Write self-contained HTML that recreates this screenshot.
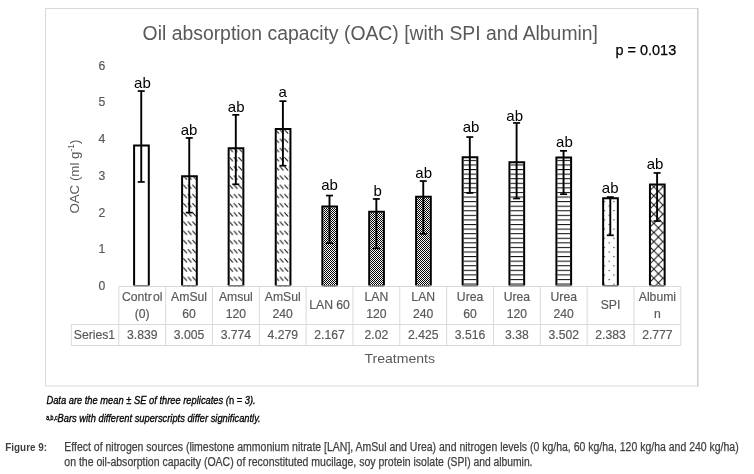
<!DOCTYPE html><html><head><meta charset="utf-8"><style>
html,body{margin:0;padding:0;background:#fff;}
svg{display:block;will-change:transform;}
text{font-family:"Liberation Sans", sans-serif;}
</style></head><body>
<svg width="754" height="474" viewBox="0 0 754 474">
<defs>
<pattern id="pDiag" patternUnits="userSpaceOnUse" x="-1.0" y="221.4" width="4.6" height="9.2"><line x1="0.2" y1="0.2" x2="3.9" y2="4.2" stroke="#111" stroke-width="1.1"/></pattern>
<pattern id="pChk" patternUnits="userSpaceOnUse" width="2" height="2"><rect x="0" y="0" width="2" height="2" fill="#fff"/><rect x="0" y="0" width="1" height="1" fill="#000"/><rect x="1" y="1" width="1" height="1" fill="#000"/></pattern>
<pattern id="pHor" patternUnits="userSpaceOnUse" x="0" y="224.0" width="10" height="4.58"><rect x="0" y="0" width="10" height="1.05" fill="#111"/></pattern>
<pattern id="pDot" patternUnits="userSpaceOnUse" x="603.8" y="246.9" width="9.6" height="9.2"><rect x="0" y="0" width="1.1" height="1.1" fill="#111"/><rect x="4.8" y="-4.6" width="1.1" height="1.1" fill="#111"/><rect x="4.8" y="4.6" width="1.1" height="1.1" fill="#111"/></pattern>
<pattern id="pX" patternUnits="userSpaceOnUse" x="649.2" y="246.2" width="9.2" height="9.15"><path d="M-1,-0.995 L10.2,10.145 M10.2,-0.995 L-1,10.145" stroke="#111" stroke-width="1.05" fill="none"/></pattern>
</defs>
<rect width="754" height="474" fill="#fff"/>
<rect x="45.5" y="8.5" width="652" height="377.5" fill="#fff" stroke="#d9d9d9" stroke-width="1"/>
<line x1="46" y1="385.8" x2="697" y2="385.8" stroke="#ececec" stroke-width="1.4"/>
<line x1="697.8" y1="8" x2="697.8" y2="386.5" stroke="#d0d0d0" stroke-width="1.6"/>
<text x="142.6" y="40" font-size="19.5" fill="#595959" textLength="455.4" lengthAdjust="spacingAndGlyphs">Oil absorption capacity (OAC) [with SPI and Albumin]</text>
<text x="615.4" y="55" font-size="15.4" fill="#000" stroke="#000" stroke-width="0.25" textLength="60.8" lengthAdjust="spacingAndGlyphs">p = 0.013</text>
<text x="105.4" y="290.20" font-size="12.2" fill="#595959" stroke="#595959" stroke-width="0.18" text-anchor="end">0</text>
<text x="105.4" y="253.45" font-size="12.2" fill="#595959" stroke="#595959" stroke-width="0.18" text-anchor="end">1</text>
<text x="105.4" y="216.70" font-size="12.2" fill="#595959" stroke="#595959" stroke-width="0.18" text-anchor="end">2</text>
<text x="105.4" y="179.95" font-size="12.2" fill="#595959" stroke="#595959" stroke-width="0.18" text-anchor="end">3</text>
<text x="105.4" y="143.20" font-size="12.2" fill="#595959" stroke="#595959" stroke-width="0.18" text-anchor="end">4</text>
<text x="105.4" y="106.45" font-size="12.2" fill="#595959" stroke="#595959" stroke-width="0.18" text-anchor="end">5</text>
<text x="105.4" y="69.70" font-size="12.2" fill="#595959" stroke="#595959" stroke-width="0.18" text-anchor="end">6</text>
<text transform="translate(78.8,213.6) rotate(-90)" font-size="13.6" fill="#595959" textLength="74" lengthAdjust="spacingAndGlyphs">OAC (ml g<tspan font-size="8.6" dy="-5">-1</tspan><tspan dy="5">)</tspan></text>
<g stroke="#d9d9d9" stroke-width="1" fill="none">
<line x1="118.80" y1="286.5" x2="680.82" y2="286.5"/>
<line x1="71.3" y1="324.5" x2="680.82" y2="324.5"/>
<line x1="71.3" y1="345.5" x2="680.82" y2="345.5"/>
<line x1="71.3" y1="324.5" x2="71.3" y2="345.5"/>
<line x1="118.80" y1="286.5" x2="118.80" y2="345.5"/>
<line x1="165.63" y1="286.5" x2="165.63" y2="345.5"/>
<line x1="212.47" y1="286.5" x2="212.47" y2="345.5"/>
<line x1="259.31" y1="286.5" x2="259.31" y2="345.5"/>
<line x1="306.14" y1="286.5" x2="306.14" y2="345.5"/>
<line x1="352.98" y1="286.5" x2="352.98" y2="345.5"/>
<line x1="399.81" y1="286.5" x2="399.81" y2="345.5"/>
<line x1="446.65" y1="286.5" x2="446.65" y2="345.5"/>
<line x1="493.48" y1="286.5" x2="493.48" y2="345.5"/>
<line x1="540.31" y1="286.5" x2="540.31" y2="345.5"/>
<line x1="587.15" y1="286.5" x2="587.15" y2="345.5"/>
<line x1="633.99" y1="286.5" x2="633.99" y2="345.5"/>
<line x1="680.82" y1="286.5" x2="680.82" y2="345.5"/>
</g>
<rect x="135.10" y="146.60" width="12.70" height="139.90" fill="#fff"/>
<path d="M134.10,285.60 V145.60 H148.80 V285.60" fill="none" stroke="#000" stroke-width="2.0"/>
<rect x="134.10" y="285.00" width="14.70" height="1.5" fill="#7f7f7f"/>
<rect x="183.10" y="177.30" width="12.70" height="109.20" fill="url(#pDiag)"/>
<path d="M182.10,285.60 V176.30 H196.80 V285.60" fill="none" stroke="#000" stroke-width="2.0"/>
<rect x="182.10" y="285.00" width="14.70" height="1.5" fill="#7f7f7f"/>
<rect x="229.65" y="149.20" width="12.70" height="137.30" fill="url(#pDiag)"/>
<path d="M228.65,285.60 V148.20 H243.35 V285.60" fill="none" stroke="#000" stroke-width="2.0"/>
<rect x="228.65" y="285.00" width="14.70" height="1.5" fill="#7f7f7f"/>
<rect x="276.75" y="130.00" width="12.70" height="156.50" fill="url(#pDiag)"/>
<path d="M275.75,285.60 V129.00 H290.45 V285.60" fill="none" stroke="#000" stroke-width="2.0"/>
<rect x="275.75" y="285.00" width="14.70" height="1.5" fill="#7f7f7f"/>
<rect x="323.35" y="207.60" width="12.70" height="78.90" fill="url(#pChk)"/>
<path d="M322.35,285.60 V206.60 H337.05 V285.60" fill="none" stroke="#000" stroke-width="2.0"/>
<rect x="322.35" y="285.00" width="14.70" height="1.5" fill="#7f7f7f"/>
<rect x="370.20" y="212.80" width="12.70" height="73.70" fill="url(#pChk)"/>
<path d="M369.20,285.60 V211.80 H383.90 V285.60" fill="none" stroke="#000" stroke-width="2.0"/>
<rect x="369.20" y="285.00" width="14.70" height="1.5" fill="#7f7f7f"/>
<rect x="417.10" y="197.70" width="12.70" height="88.80" fill="url(#pChk)"/>
<path d="M416.10,285.60 V196.70 H430.80 V285.60" fill="none" stroke="#000" stroke-width="2.0"/>
<rect x="416.10" y="285.00" width="14.70" height="1.5" fill="#7f7f7f"/>
<rect x="463.65" y="158.30" width="12.70" height="128.20" fill="url(#pHor)"/>
<path d="M462.65,285.60 V157.30 H477.35 V285.60" fill="none" stroke="#000" stroke-width="2.0"/>
<rect x="462.65" y="285.00" width="14.70" height="1.5" fill="#7f7f7f"/>
<rect x="510.45" y="163.30" width="12.70" height="123.20" fill="url(#pHor)"/>
<path d="M509.45,285.60 V162.30 H524.15 V285.60" fill="none" stroke="#000" stroke-width="2.0"/>
<rect x="509.45" y="285.00" width="14.70" height="1.5" fill="#7f7f7f"/>
<rect x="557.40" y="158.50" width="12.70" height="128.00" fill="url(#pHor)"/>
<path d="M556.40,285.60 V157.50 H571.10 V285.60" fill="none" stroke="#000" stroke-width="2.0"/>
<rect x="556.40" y="285.00" width="14.70" height="1.5" fill="#7f7f7f"/>
<rect x="604.15" y="199.30" width="12.70" height="87.20" fill="url(#pDot)"/>
<path d="M603.15,285.60 V198.30 H617.85 V285.60" fill="none" stroke="#000" stroke-width="2.0"/>
<rect x="603.15" y="285.00" width="14.70" height="1.5" fill="#7f7f7f"/>
<rect x="650.95" y="185.40" width="12.70" height="101.10" fill="url(#pX)"/>
<path d="M649.95,285.60 V184.40 H664.65 V285.60" fill="none" stroke="#000" stroke-width="2.0"/>
<rect x="649.95" y="285.00" width="14.70" height="1.5" fill="#7f7f7f"/>
<line x1="141.25" y1="91.05" x2="141.25" y2="181.95" stroke="#000" stroke-width="1.9"/>
<rect x="137.75" y="90.20" width="7" height="1.7" fill="#000"/>
<rect x="137.75" y="181.10" width="7" height="1.7" fill="#000"/>
<line x1="189.25" y1="137.95" x2="189.25" y2="212.60" stroke="#000" stroke-width="1.9"/>
<rect x="185.75" y="137.10" width="7" height="1.7" fill="#000"/>
<rect x="185.75" y="211.75" width="7" height="1.7" fill="#000"/>
<line x1="235.80" y1="114.85" x2="235.80" y2="184.30" stroke="#000" stroke-width="1.9"/>
<rect x="232.30" y="114.00" width="7" height="1.7" fill="#000"/>
<rect x="232.30" y="183.45" width="7" height="1.7" fill="#000"/>
<line x1="282.90" y1="101.15" x2="282.90" y2="165.70" stroke="#000" stroke-width="1.9"/>
<rect x="279.40" y="100.30" width="7" height="1.7" fill="#000"/>
<rect x="279.40" y="164.85" width="7" height="1.7" fill="#000"/>
<line x1="329.50" y1="195.55" x2="329.50" y2="243.10" stroke="#000" stroke-width="1.9"/>
<rect x="326.00" y="194.70" width="7" height="1.7" fill="#000"/>
<rect x="326.00" y="242.25" width="7" height="1.7" fill="#000"/>
<line x1="376.35" y1="198.95" x2="376.35" y2="248.40" stroke="#000" stroke-width="1.9"/>
<rect x="372.85" y="198.10" width="7" height="1.7" fill="#000"/>
<rect x="372.85" y="247.55" width="7" height="1.7" fill="#000"/>
<line x1="423.25" y1="181.05" x2="423.25" y2="233.80" stroke="#000" stroke-width="1.9"/>
<rect x="419.75" y="180.20" width="7" height="1.7" fill="#000"/>
<rect x="419.75" y="232.95" width="7" height="1.7" fill="#000"/>
<line x1="469.80" y1="137.05" x2="469.80" y2="193.00" stroke="#000" stroke-width="1.9"/>
<rect x="466.30" y="136.20" width="7" height="1.7" fill="#000"/>
<rect x="466.30" y="192.15" width="7" height="1.7" fill="#000"/>
<line x1="516.60" y1="122.95" x2="516.60" y2="198.50" stroke="#000" stroke-width="1.9"/>
<rect x="513.10" y="122.10" width="7" height="1.7" fill="#000"/>
<rect x="513.10" y="197.65" width="7" height="1.7" fill="#000"/>
<line x1="563.55" y1="150.85" x2="563.55" y2="194.20" stroke="#000" stroke-width="1.9"/>
<rect x="560.05" y="150.00" width="7" height="1.7" fill="#000"/>
<rect x="560.05" y="193.35" width="7" height="1.7" fill="#000"/>
<line x1="610.30" y1="197.05" x2="610.30" y2="235.30" stroke="#000" stroke-width="1.9"/>
<rect x="606.80" y="196.20" width="7" height="1.7" fill="#000"/>
<rect x="606.80" y="234.45" width="7" height="1.7" fill="#000"/>
<line x1="657.10" y1="172.95" x2="657.10" y2="221.05" stroke="#000" stroke-width="1.9"/>
<rect x="653.60" y="172.10" width="7" height="1.7" fill="#000"/>
<rect x="653.60" y="220.20" width="7" height="1.7" fill="#000"/>
<text x="142.45" y="87.70" font-size="15" fill="#000" text-anchor="middle">ab</text>
<text x="189.10" y="134.70" font-size="15" fill="#000" text-anchor="middle">ab</text>
<text x="236.15" y="111.70" font-size="15" fill="#000" text-anchor="middle">ab</text>
<text x="282.70" y="96.70" font-size="15" fill="#000" text-anchor="middle">a</text>
<text x="329.55" y="190.40" font-size="15" fill="#000" text-anchor="middle">ab</text>
<text x="377.75" y="195.60" font-size="15" fill="#000" text-anchor="middle">b</text>
<text x="423.70" y="177.90" font-size="15" fill="#000" text-anchor="middle">ab</text>
<text x="471.10" y="132.20" font-size="15" fill="#000" text-anchor="middle">ab</text>
<text x="514.70" y="120.60" font-size="15" fill="#000" text-anchor="middle">ab</text>
<text x="564.40" y="146.60" font-size="15" fill="#000" text-anchor="middle">ab</text>
<text x="610.20" y="192.60" font-size="15" fill="#000" text-anchor="middle">ab</text>
<text x="655.05" y="168.50" font-size="15" fill="#000" text-anchor="middle">ab</text>
<text x="142.22" y="300.8" font-size="12.2" fill="#595959" stroke="#595959" stroke-width="0.18" text-anchor="middle">Contr<tspan dx="1.2">ol</tspan></text>
<text x="142.22" y="317.5" font-size="12.2" fill="#595959" stroke="#595959" stroke-width="0.18" text-anchor="middle">(0)</text>
<text x="142.22" y="338.5" font-size="12.2" fill="#595959" stroke="#595959" stroke-width="0.18" text-anchor="middle">3.839</text>
<text x="189.05" y="300.8" font-size="12.2" fill="#595959" stroke="#595959" stroke-width="0.18" text-anchor="middle">AmSul</text>
<text x="189.05" y="317.5" font-size="12.2" fill="#595959" stroke="#595959" stroke-width="0.18" text-anchor="middle">60</text>
<text x="189.05" y="338.5" font-size="12.2" fill="#595959" stroke="#595959" stroke-width="0.18" text-anchor="middle">3.005</text>
<text x="235.89" y="300.8" font-size="12.2" fill="#595959" stroke="#595959" stroke-width="0.18" text-anchor="middle">Amsul</text>
<text x="235.89" y="317.5" font-size="12.2" fill="#595959" stroke="#595959" stroke-width="0.18" text-anchor="middle">120</text>
<text x="235.89" y="338.5" font-size="12.2" fill="#595959" stroke="#595959" stroke-width="0.18" text-anchor="middle">3.774</text>
<text x="282.72" y="300.8" font-size="12.2" fill="#595959" stroke="#595959" stroke-width="0.18" text-anchor="middle">AmSul</text>
<text x="282.72" y="317.5" font-size="12.2" fill="#595959" stroke="#595959" stroke-width="0.18" text-anchor="middle">240</text>
<text x="282.72" y="338.5" font-size="12.2" fill="#595959" stroke="#595959" stroke-width="0.18" text-anchor="middle">4.279</text>
<text x="329.56" y="308.8" font-size="12.2" fill="#595959" stroke="#595959" stroke-width="0.18" text-anchor="middle">LAN 60</text>
<text x="329.56" y="338.5" font-size="12.2" fill="#595959" stroke="#595959" stroke-width="0.18" text-anchor="middle">2.167</text>
<text x="376.39" y="300.8" font-size="12.2" fill="#595959" stroke="#595959" stroke-width="0.18" text-anchor="middle">LAN</text>
<text x="376.39" y="317.5" font-size="12.2" fill="#595959" stroke="#595959" stroke-width="0.18" text-anchor="middle">120</text>
<text x="376.39" y="338.5" font-size="12.2" fill="#595959" stroke="#595959" stroke-width="0.18" text-anchor="middle">2.02</text>
<text x="423.23" y="300.8" font-size="12.2" fill="#595959" stroke="#595959" stroke-width="0.18" text-anchor="middle">LAN</text>
<text x="423.23" y="317.5" font-size="12.2" fill="#595959" stroke="#595959" stroke-width="0.18" text-anchor="middle">240</text>
<text x="423.23" y="338.5" font-size="12.2" fill="#595959" stroke="#595959" stroke-width="0.18" text-anchor="middle">2.425</text>
<text x="470.06" y="300.8" font-size="12.2" fill="#595959" stroke="#595959" stroke-width="0.18" text-anchor="middle">Urea</text>
<text x="470.06" y="317.5" font-size="12.2" fill="#595959" stroke="#595959" stroke-width="0.18" text-anchor="middle">60</text>
<text x="470.06" y="338.5" font-size="12.2" fill="#595959" stroke="#595959" stroke-width="0.18" text-anchor="middle">3.516</text>
<text x="516.90" y="300.8" font-size="12.2" fill="#595959" stroke="#595959" stroke-width="0.18" text-anchor="middle">Urea</text>
<text x="516.90" y="317.5" font-size="12.2" fill="#595959" stroke="#595959" stroke-width="0.18" text-anchor="middle">120</text>
<text x="516.90" y="338.5" font-size="12.2" fill="#595959" stroke="#595959" stroke-width="0.18" text-anchor="middle">3.38</text>
<text x="563.73" y="300.8" font-size="12.2" fill="#595959" stroke="#595959" stroke-width="0.18" text-anchor="middle">Urea</text>
<text x="563.73" y="317.5" font-size="12.2" fill="#595959" stroke="#595959" stroke-width="0.18" text-anchor="middle">240</text>
<text x="563.73" y="338.5" font-size="12.2" fill="#595959" stroke="#595959" stroke-width="0.18" text-anchor="middle">3.502</text>
<text x="610.57" y="308.8" font-size="12.2" fill="#595959" stroke="#595959" stroke-width="0.18" text-anchor="middle">SPI</text>
<text x="610.57" y="338.5" font-size="12.2" fill="#595959" stroke="#595959" stroke-width="0.18" text-anchor="middle">2.383</text>
<text x="657.40" y="300.8" font-size="12.2" fill="#595959" stroke="#595959" stroke-width="0.18" text-anchor="middle">Albumi</text>
<text x="657.40" y="317.5" font-size="12.2" fill="#595959" stroke="#595959" stroke-width="0.18" text-anchor="middle">n</text>
<text x="657.40" y="338.5" font-size="12.2" fill="#595959" stroke="#595959" stroke-width="0.18" text-anchor="middle">2.777</text>
<text x="94.5" y="338.5" font-size="12.2" fill="#595959" stroke="#595959" stroke-width="0.18" text-anchor="middle">Series1</text>
<text x="364.5" y="362.7" font-size="13.4" fill="#595959" textLength="70.5" lengthAdjust="spacingAndGlyphs">Treatments</text>
<text x="46.4" y="404" font-size="10.2" font-style="italic" fill="#000" stroke="#000" stroke-width="0.3" textLength="209.2" lengthAdjust="spacingAndGlyphs">Data are the mean <tspan font-style="normal">±</tspan> SE of three replicates (<tspan font-style="normal">n = </tspan>3).</text>
<text x="46.3" y="419.6" font-size="6.6" fill="#000" stroke="#000" stroke-width="0.35" textLength="11.2" lengthAdjust="spacingAndGlyphs">a,b,c</text>
<text x="57.6" y="421.5" font-size="10.2" font-style="italic" fill="#000" stroke="#000" stroke-width="0.3" textLength="203.1" lengthAdjust="spacingAndGlyphs">Bars with different superscripts differ significantly.</text>
<text x="5.3" y="450.6" font-size="11.8" font-weight="bold" fill="#3f3f3f" textLength="41.7" lengthAdjust="spacingAndGlyphs">Figure 9:</text>
<text x="64.3" y="450.6" font-size="12" fill="#3f3f3f" stroke="#3f3f3f" stroke-width="0.25" textLength="674.4" lengthAdjust="spacingAndGlyphs">Effect of nitrogen sources (limestone ammonium nitrate [LAN], AmSul and Urea) and nitrogen levels (0 kg/ha, 60 kg/ha, 120 kg/ha and 240 kg/ha)</text>
<text x="64.3" y="465.8" font-size="12" fill="#3f3f3f" stroke="#3f3f3f" stroke-width="0.25" textLength="379.6" lengthAdjust="spacingAndGlyphs">on the oil-absorption capacity (OAC) of reconstituted mucilage, soy protein isolate</text>
<text x="447.2" y="465.8" font-size="12" fill="#3f3f3f" stroke="#3f3f3f" stroke-width="0.25" textLength="85.3" lengthAdjust="spacingAndGlyphs">(SPI) and albumin.</text>
</svg></body></html>
